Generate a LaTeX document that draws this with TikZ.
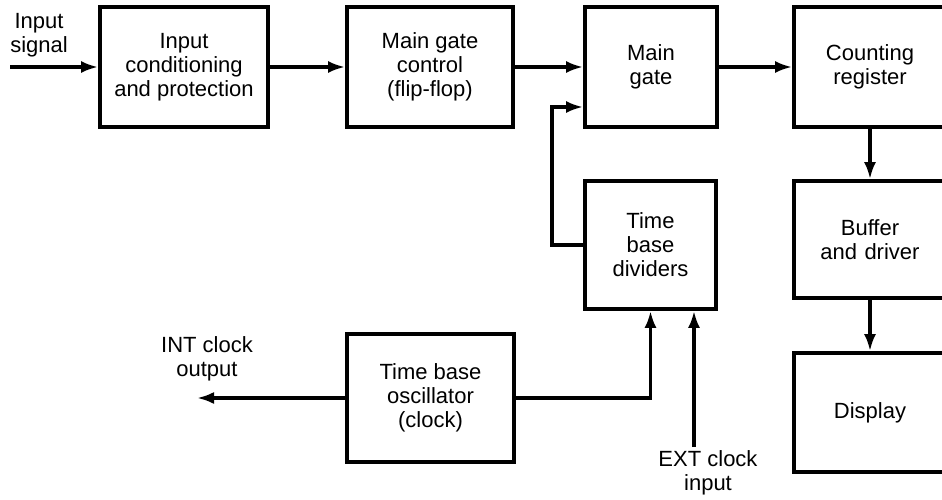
\documentclass[tikz,border=0pt]{standalone}
\usepackage{fontspec}
\setmainfont{Liberation Sans}
\usetikzlibrary{arrows.meta,positioning}
\begin{document}
\begin{tikzpicture}[x=1pt,y=-1pt,
  blk/.style={draw,line width=3.8pt,inner sep=0pt,align=center,font=\fontsize{22}{24}\selectfont},
  lbl/.style={inner sep=0pt,align=center,font=\fontsize{22}{24}\selectfont},
  conn/.style={line width=3.2pt,-{Latex[length=17pt,width=12pt]}}]
\useasboundingbox (0,0) rectangle (942,500);
\clip (0,0) rectangle (942,500);
\node[blk,minimum width=168pt,minimum height=120pt] (b1) at (184,67) {Input\\conditioning\\and protection};
\node[blk,minimum width=166pt,minimum height=120pt] (b2) at (430,67) {Main gate\\control\\(flip-flop)};
\node[blk,minimum width=132pt,minimum height=120pt] (b3) at (651,67) {Main\\gate};
\node[blk,minimum width=156pt,minimum height=120pt,text width=152pt] (b4) at (872,67) {\hspace*{-4pt}Counting\\\hspace*{-4pt}register};
\node[blk,minimum width=131pt,minimum height=128pt] (tbd) at (650.5,245) {Time\\base\\dividers};
\node[blk,minimum width=156pt,minimum height=117pt,text width=152pt] (buf) at (872,239.5) {\hspace*{-4pt}Buffer\\\hspace*{-4pt}and driver};
\node[blk,minimum width=156pt,minimum height=119pt,text width=152pt] (disp) at (872,412.5) {\hspace*{-4pt}Display};
\node[blk,minimum width=167pt,minimum height=128pt] (osc) at (430.5,398) {Time base\\oscillator\\(clock)};
\node[lbl] (insig) at (39,35) {Input\\signal};
\node[lbl] (intclk) at (207,359) {INT clock\\output};
\node[lbl] (extclk) at (708,473) {EXT clock\\input};
\coordinate (inStart) at (10,67);
\coordinate (intEnd) at (197,398);
\coordinate (extStart) at (694,447);
\coordinate (fbCorner) at (552,245);
\draw[conn] (inStart) -- (b1.west);
\draw[conn] (b1.east) -- (b2.west);
\draw[conn] (b2.east) -- (b3.west);
\draw[conn] (b3.east) -- (b4.west);
\draw[conn] (tbd.west) -- (fbCorner) -- (fbCorner |- 0,107) -- (b3.west |- 0,107);
\draw[conn] (osc.east) -| (tbd.south);
\draw[conn] (osc.west) -- (intEnd);
\draw[conn] (extStart) -- (extStart |- tbd.south);
\draw[conn] (b4.south -| 870,0) -- (buf.north -| 870,0);
\draw[conn] (buf.south -| 870,0) -- (disp.north -| 870,0);
\end{tikzpicture}
\end{document}
